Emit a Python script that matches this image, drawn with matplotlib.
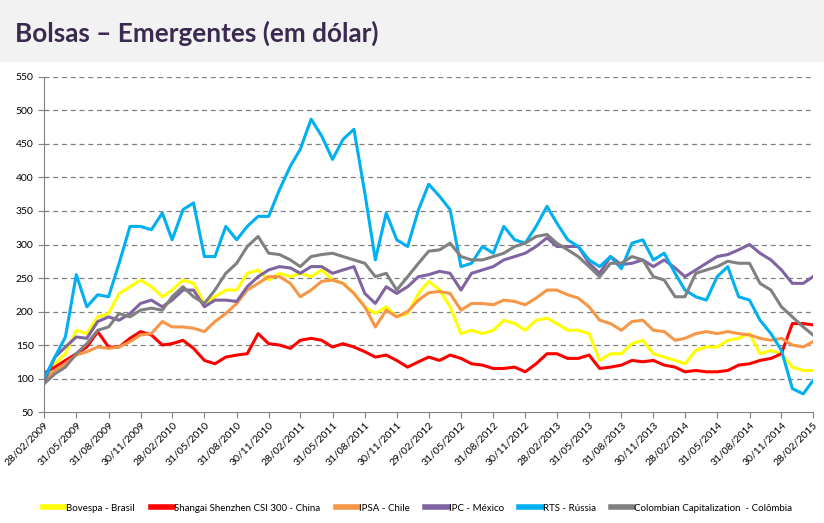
import matplotlib
matplotlib.use("Agg")
import matplotlib.pyplot as plt
import matplotlib.dates as mdates
from matplotlib.patches import Rectangle
import pandas as pd

# monthly closes, 28/02/2009 .. 28/02/2015 (base 100)
dates = pd.date_range("2009-02-28", periods=73, freq="ME")

bovespa = [100, 122, 137, 172, 167, 192, 197, 227, 237, 247, 237, 222, 232, 247, 242, 212, 222, 232, 232,
           257, 262, 247, 257, 252, 257, 252, 262, 247, 242, 227, 207, 197, 207, 192, 197, 227, 245,
           232, 207, 167, 172, 167, 172, 187, 182, 172, 187, 190, 182, 172, 172, 167, 127, 137, 137,
           152, 157, 137, 132, 127, 122, 142, 147, 147, 157, 160, 167, 137, 142, 137, 117, 112, 112]
shangai = [108, 117, 127, 137, 147, 170, 147, 147, 160, 170, 165, 150, 152, 157, 145, 127, 122, 132, 135,
           137, 167, 152, 150, 145, 157, 160, 157, 147, 152, 147, 140, 132, 135, 127, 117, 125, 132,
           127, 135, 130, 122, 120, 115, 115, 117, 110, 122, 137, 137, 130, 130, 135, 115, 117, 120,
           127, 125, 127, 120, 117, 110, 112, 110, 110, 112, 120, 122, 127, 130, 137, 182, 182, 180]
ipsa = [97, 112, 122, 135, 140, 147, 145, 147, 155, 165, 167, 185, 177, 177, 175, 170, 185, 197, 212,
        232, 242, 252, 252, 242, 222, 232, 245, 247, 242, 227, 207, 177, 202, 192, 200, 217, 228,
        230, 227, 202, 212, 212, 210, 217, 215, 210, 220, 232, 232, 225, 220, 207, 187, 182, 172,
        185, 187, 172, 170, 157, 160, 167, 170, 167, 170, 167, 165, 160, 157, 160, 150, 147, 155]
ipc = [95, 132, 147, 162, 160, 185, 192, 187, 197, 212, 217, 207, 217, 232, 232, 207, 217, 217, 215,
       237, 252, 262, 267, 265, 257, 267, 267, 257, 262, 267, 227, 212, 237, 227, 237, 252, 255,
       260, 257, 232, 257, 262, 267, 277, 282, 287, 297, 310, 297, 297, 297, 272, 257, 282, 270,
       272, 277, 267, 277, 265, 252, 262, 272, 282, 285, 292, 300, 287, 277, 262, 242, 242, 252]
rts = [100, 132, 162, 255, 207, 225, 222, 272, 327, 327, 322, 347, 307, 352, 362, 282, 282, 327, 307,
       327, 342, 342, 382, 417, 442, 487, 462, 427, 457, 472, 377, 277, 347, 307, 297, 352, 390,
       372, 352, 267, 272, 297, 287, 327, 307, 302, 327, 357, 332, 307, 297, 277, 267, 282, 264,
       302, 307, 277, 287, 257, 232, 222, 217, 252, 267, 222, 217, 187, 167, 142, 85, 77, 97]
colombia = [92, 107, 117, 137, 152, 172, 177, 197, 192, 202, 205, 202, 222, 237, 222, 212, 232, 257, 272,
            297, 312, 287, 285, 277, 267, 282, 285, 287, 282, 277, 272, 252, 257, 232, 252, 272, 290,
            292, 302, 282, 277, 277, 282, 287, 297, 302, 312, 315, 302, 292, 282, 267, 252, 272, 272,
            282, 277, 252, 247, 222, 222, 257, 262, 267, 275, 272, 272, 242, 232, 207, 192, 177, 165]

names = ["Bovespa - Brasil", "Shangai Shenzhen CSI 300 - China", "IPSA - Chile",
         "IPC - México", "RTS - Rússia", "Colombian Capitalization  - Colômbia"]
colors = ["#FFFF00", "#FF0000", "#F79646", "#8064A2", "#00B0F0", "#808080"]
series = [bovespa, shangai, ipsa, ipc, rts, colombia]

plt.rcParams["font.family"] = ["Lato", "DejaVu Sans"]

fig = plt.figure(figsize=(8.24, 5.23), dpi=100)
fig.patches.append(Rectangle((0, 0.882), 1, 0.118, transform=fig.transFigure,
                             facecolor="#F2F2F2", edgecolor="none", zorder=0))
fig.text(0.018, 0.937, "Bolsas – Emergentes (em dólar)", fontsize=18.8, fontweight="bold",
         color="#3B2A4F", va="center", ha="left")

ax = fig.add_axes([0.0534, 0.2122, 0.9333, 0.6406])
for name, col, vals in zip(names, colors, series):
    ax.plot(dates, vals, color=col, lw=2.2, label=name)

ax.set_ylim(50, 550)
ax.set_yticks(range(50, 551, 50))
ax.set_xlim(dates[0], dates[-1])
ticks = dates[::3]
ax.set_xticks(ticks)
ax.xaxis.set_major_formatter(mdates.DateFormatter("%d/%m/%Y"))
for lbl in ax.get_xticklabels():
    lbl.set_rotation(45)
    lbl.set_ha("right")
    lbl.set_rotation_mode("anchor")
ax.tick_params(labelsize=7.5, color="#808080", length=4)
ax.tick_params(axis="x", pad=2)

for v in range(100, 551, 50):
    ax.axhline(v, color="#808080", lw=0.9, ls=(0, (4, 3)), zorder=0)
for s in ["top", "right"]:
    ax.spines[s].set_visible(False)
for s in ["left", "bottom"]:
    ax.spines[s].set_color("#808080")

leg = fig.legend(loc="center", bbox_to_anchor=(0.507, 0.028), ncol=6, frameon=False,
                 fontsize=7, handlelength=2.3, handletextpad=0.1, columnspacing=1.6)
for line in leg.get_lines():
    line.set_linewidth(4)

fig.savefig("out.png", dpi=100, facecolor="white")
